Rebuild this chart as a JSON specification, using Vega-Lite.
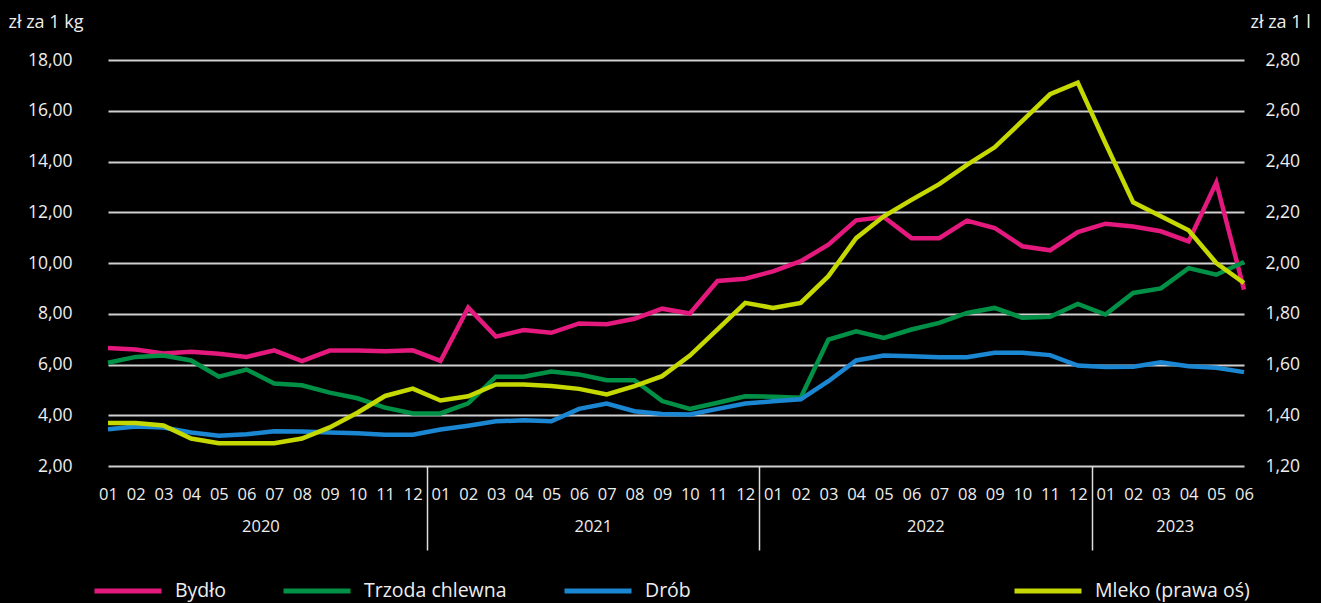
{
  "$schema": "https://vega.github.io/schema/vega-lite/v6.json",
  "width": 1172,
  "height": 406,
  "autosize": {"type": "none"},
  "padding": {"left": 85, "top": 60, "right": 64, "bottom": 137},
  "background": "#000000",
  "config": {
    "view": {"stroke": null},
    "font": "Open Sans",
    "axis": {"labelFont": "Open Sans", "titleFont": "Open Sans", "labelColor": "#eeeeee", "titleColor": "#eeeeee", "titleFontWeight": "normal"},
    "legend": {"labelFont": "Open Sans", "labelColor": "#eeeeee"}
  },
  "data": {
    "values": [
      {"month": "2020-01", "Bydło": 6.65, "Trzoda chlewna": 6.07, "Drób": 3.45, "Mleko (prawa oś)": 1.369},
      {"month": "2020-02", "Bydło": 6.59, "Trzoda chlewna": 6.30, "Drób": 3.56, "Mleko (prawa oś)": 1.369},
      {"month": "2020-03", "Bydło": 6.43, "Trzoda chlewna": 6.35, "Drób": 3.52, "Mleko (prawa oś)": 1.360},
      {"month": "2020-04", "Bydło": 6.50, "Trzoda chlewna": 6.16, "Drób": 3.32, "Mleko (prawa oś)": 1.308},
      {"month": "2020-05", "Bydło": 6.42, "Trzoda chlewna": 5.52, "Drób": 3.19, "Mleko (prawa oś)": 1.290},
      {"month": "2020-06", "Bydło": 6.30, "Trzoda chlewna": 5.80, "Drób": 3.25, "Mleko (prawa oś)": 1.290},
      {"month": "2020-07", "Bydło": 6.56, "Trzoda chlewna": 5.25, "Drób": 3.37, "Mleko (prawa oś)": 1.290},
      {"month": "2020-08", "Bydło": 6.13, "Trzoda chlewna": 5.18, "Drób": 3.36, "Mleko (prawa oś)": 1.308},
      {"month": "2020-09", "Bydło": 6.55, "Trzoda chlewna": 4.89, "Drób": 3.32, "Mleko (prawa oś)": 1.352},
      {"month": "2020-10", "Bydło": 6.55, "Trzoda chlewna": 4.67, "Drób": 3.29, "Mleko (prawa oś)": 1.410},
      {"month": "2020-11", "Bydło": 6.52, "Trzoda chlewna": 4.30, "Drób": 3.23, "Mleko (prawa oś)": 1.476},
      {"month": "2020-12", "Bydło": 6.56, "Trzoda chlewna": 4.07, "Drób": 3.23, "Mleko (prawa oś)": 1.505},
      {"month": "2021-01", "Bydło": 6.14, "Trzoda chlewna": 4.07, "Drób": 3.44, "Mleko (prawa oś)": 1.458},
      {"month": "2021-02", "Bydło": 8.24, "Trzoda chlewna": 4.47, "Drób": 3.59, "Mleko (prawa oś)": 1.475},
      {"month": "2021-03", "Bydło": 7.10, "Trzoda chlewna": 5.52, "Drób": 3.76, "Mleko (prawa oś)": 1.521},
      {"month": "2021-04", "Bydło": 7.36, "Trzoda chlewna": 5.52, "Drób": 3.80, "Mleko (prawa oś)": 1.521},
      {"month": "2021-05", "Bydło": 7.25, "Trzoda chlewna": 5.72, "Drób": 3.76, "Mleko (prawa oś)": 1.515},
      {"month": "2021-06", "Bydło": 7.62, "Trzoda chlewna": 5.61, "Drób": 4.25, "Mleko (prawa oś)": 1.504},
      {"month": "2021-07", "Bydło": 7.59, "Trzoda chlewna": 5.38, "Drób": 4.46, "Mleko (prawa oś)": 1.482},
      {"month": "2021-08", "Bydło": 7.80, "Trzoda chlewna": 5.38, "Drób": 4.16, "Mleko (prawa oś)": 1.515},
      {"month": "2021-09", "Bydło": 8.20, "Trzoda chlewna": 4.56, "Drób": 4.05, "Mleko (prawa oś)": 1.554},
      {"month": "2021-10", "Bydło": 8.01, "Trzoda chlewna": 4.25, "Drób": 4.03, "Mleko (prawa oś)": 1.635},
      {"month": "2021-11", "Bydło": 9.29, "Trzoda chlewna": 4.49, "Drób": 4.25, "Mleko (prawa oś)": 1.738},
      {"month": "2021-12", "Bydło": 9.38, "Trzoda chlewna": 4.75, "Drób": 4.46, "Mleko (prawa oś)": 1.843},
      {"month": "2022-01", "Bydło": 9.67, "Trzoda chlewna": 4.73, "Drób": 4.55, "Mleko (prawa oś)": 1.823},
      {"month": "2022-02", "Bydło": 10.07, "Trzoda chlewna": 4.69, "Drób": 4.63, "Mleko (prawa oś)": 1.843},
      {"month": "2022-03", "Bydło": 10.72, "Trzoda chlewna": 6.98, "Drób": 5.34, "Mleko (prawa oś)": 1.948},
      {"month": "2022-04", "Bydło": 11.68, "Trzoda chlewna": 7.31, "Drób": 6.16, "Mleko (prawa oś)": 2.098},
      {"month": "2022-05", "Bydło": 11.81, "Trzoda chlewna": 7.05, "Drób": 6.35, "Mleko (prawa oś)": 2.184},
      {"month": "2022-06", "Bydło": 10.98, "Trzoda chlewna": 7.38, "Drób": 6.33, "Mleko (prawa oś)": 2.249},
      {"month": "2022-07", "Bydło": 10.98, "Trzoda chlewna": 7.64, "Drób": 6.29, "Mleko (prawa oś)": 2.311},
      {"month": "2022-08", "Bydło": 11.67, "Trzoda chlewna": 8.03, "Drób": 6.29, "Mleko (prawa oś)": 2.387},
      {"month": "2022-09", "Bydło": 11.38, "Trzoda chlewna": 8.23, "Drób": 6.46, "Mleko (prawa oś)": 2.456},
      {"month": "2022-10", "Bydło": 10.66, "Trzoda chlewna": 7.84, "Drób": 6.46, "Mleko (prawa oś)": 2.560},
      {"month": "2022-11", "Bydło": 10.50, "Trzoda chlewna": 7.88, "Drób": 6.37, "Mleko (prawa oś)": 2.665},
      {"month": "2022-12", "Bydło": 11.22, "Trzoda chlewna": 8.39, "Drób": 5.96, "Mleko (prawa oś)": 2.711},
      {"month": "2023-01", "Bydło": 11.55, "Trzoda chlewna": 7.97, "Drób": 5.90, "Mleko (prawa oś)": 2.472},
      {"month": "2023-02", "Bydło": 11.44, "Trzoda chlewna": 8.82, "Drób": 5.91, "Mleko (prawa oś)": 2.239},
      {"month": "2023-03", "Bydło": 11.25, "Trzoda chlewna": 9.00, "Drób": 6.09, "Mleko (prawa oś)": 2.184},
      {"month": "2023-04", "Bydło": 10.85, "Trzoda chlewna": 9.80, "Drób": 5.93, "Mleko (prawa oś)": 2.129},
      {"month": "2023-05", "Bydło": 13.17, "Trzoda chlewna": 9.54, "Drób": 5.87, "Mleko (prawa oś)": 2.000},
      {"month": "2023-06", "Bydło": 8.95, "Trzoda chlewna": 10.04, "Drób": 5.70, "Mleko (prawa oś)": 1.921}
    ]
  },
  "layer": [
    {
      "transform": [{"fold": ["Bydło", "Trzoda chlewna", "Drób"], "as": ["s", "v"]}],
      "mark": {"type": "line", "strokeWidth": 4.5},
      "encoding": {
        "x": {
          "field": "month", "type": "ordinal",
          "scale": {"type": "point", "range": [23, 1159], "padding": 0},
          "axis": {"orient": "bottom", "title": null, "labelExpr": "substring(datum.value, 5)", "labelAngle": 0, "labelFontSize": 16.5, "labelPadding": 20, "ticks": false, "domain": false, "grid": false, "labelOverlap": false}
        },
        "y": {
          "field": "v", "type": "quantitative",
          "scale": {"domain": [2, 18], "nice": false, "zero": false},
          "axis": {
            "orient": "left", "values": [2, 4, 6, 8, 10, 12, 14, 16, 18],
            "labelExpr": "replace(format(datum.value, '.2f'), '.', ',')",
            "labelFontSize": 17.5, "labelPadding": 13, "ticks": false, "domain": false,
            "grid": true, "gridColor": "#cfcfcf", "gridWidth": 2,
            "title": "zł za 1 kg", "titleAngle": 0, "titleAlign": "left", "titleBaseline": "middle",
            "titleX": -77, "titleY": -38, "titleFontSize": 18
          }
        },
        "color": {
          "field": "s", "type": "nominal",
          "scale": {"domain": ["Bydło", "Trzoda chlewna", "Drób"], "range": ["#e3197d", "#009147", "#1b86d1"]},
          "legend": {
            "orient": "none", "legendX": 7, "legendY": 495, "direction": "horizontal", "title": null,
            "symbolType": "stroke", "symbolSize": 4489, "symbolStrokeWidth": 5,
            "labelFontSize": 19.5, "labelOffset": 11, "columnPadding": 47, "labelLimit": 300
          }
        }
      }
    },
    {
      "transform": [{"fold": ["Mleko (prawa oś)"], "as": ["s", "v"]}],
      "mark": {"type": "line", "strokeWidth": 4.5},
      "encoding": {
        "x": {
          "field": "month", "type": "ordinal",
          "scale": {"type": "point", "range": [23, 1159], "padding": 0},
          "axis": {"orient": "bottom", "title": null, "values": ["2020-06", "2021-06", "2022-06", "2023-03"], "labelExpr": "substring(datum.value, 0, 4)", "labelAngle": 0, "labelOffset": 13.85, "labelFontSize": 16.5, "labelPadding": 52, "ticks": false, "domain": false, "grid": false, "labelOverlap": false}
        },
        "y": {
          "field": "v", "type": "quantitative",
          "scale": {"domain": [1.2, 2.8], "nice": false, "zero": false},
          "axis": {
            "orient": "right", "values": [1.2, 1.4, 1.6, 1.8, 2.0, 2.2, 2.4, 2.6, 2.8],
            "labelExpr": "replace(format(datum.value, '.2f'), '.', ',')",
            "labelFontSize": 17.5, "labelPadding": 8, "ticks": false, "domain": false, "grid": false,
            "title": "zł za 1 l", "titleAngle": 0, "titleAlign": "left", "titleBaseline": "middle",
            "titleX": -7, "titleY": -38, "titleFontSize": 18
          }
        },
        "stroke": {
          "field": "s", "type": "nominal",
          "scale": {"domain": ["Mleko (prawa oś)"], "range": ["#c5d800"]},
          "legend": {
            "orient": "none", "legendX": 927, "legendY": 495, "direction": "horizontal", "title": null,
            "symbolType": "stroke", "symbolSize": 4489, "symbolStrokeWidth": 5,
            "labelFontSize": 19.5, "labelOffset": 11, "labelLimit": 300
          }
        }
      }
    },
    {
      "mark": {"type": "point", "opacity": 0},
      "encoding": {
        "x": {
          "field": "month", "type": "ordinal",
          "scale": {"type": "point", "range": [23, 1159], "padding": 0},
          "axis": {"orient": "bottom", "title": null, "values": ["2020-12", "2021-12", "2022-12"], "labels": false, "domain": false, "grid": false, "ticks": true, "tickSize": 84, "tickOffset": 13.85, "tickColor": "#dddddd", "tickWidth": 1.5}
        }
      }
    }
  ],
  "resolve": {"scale": {"y": "independent"}, "axis": {"x": "independent"}}
}
